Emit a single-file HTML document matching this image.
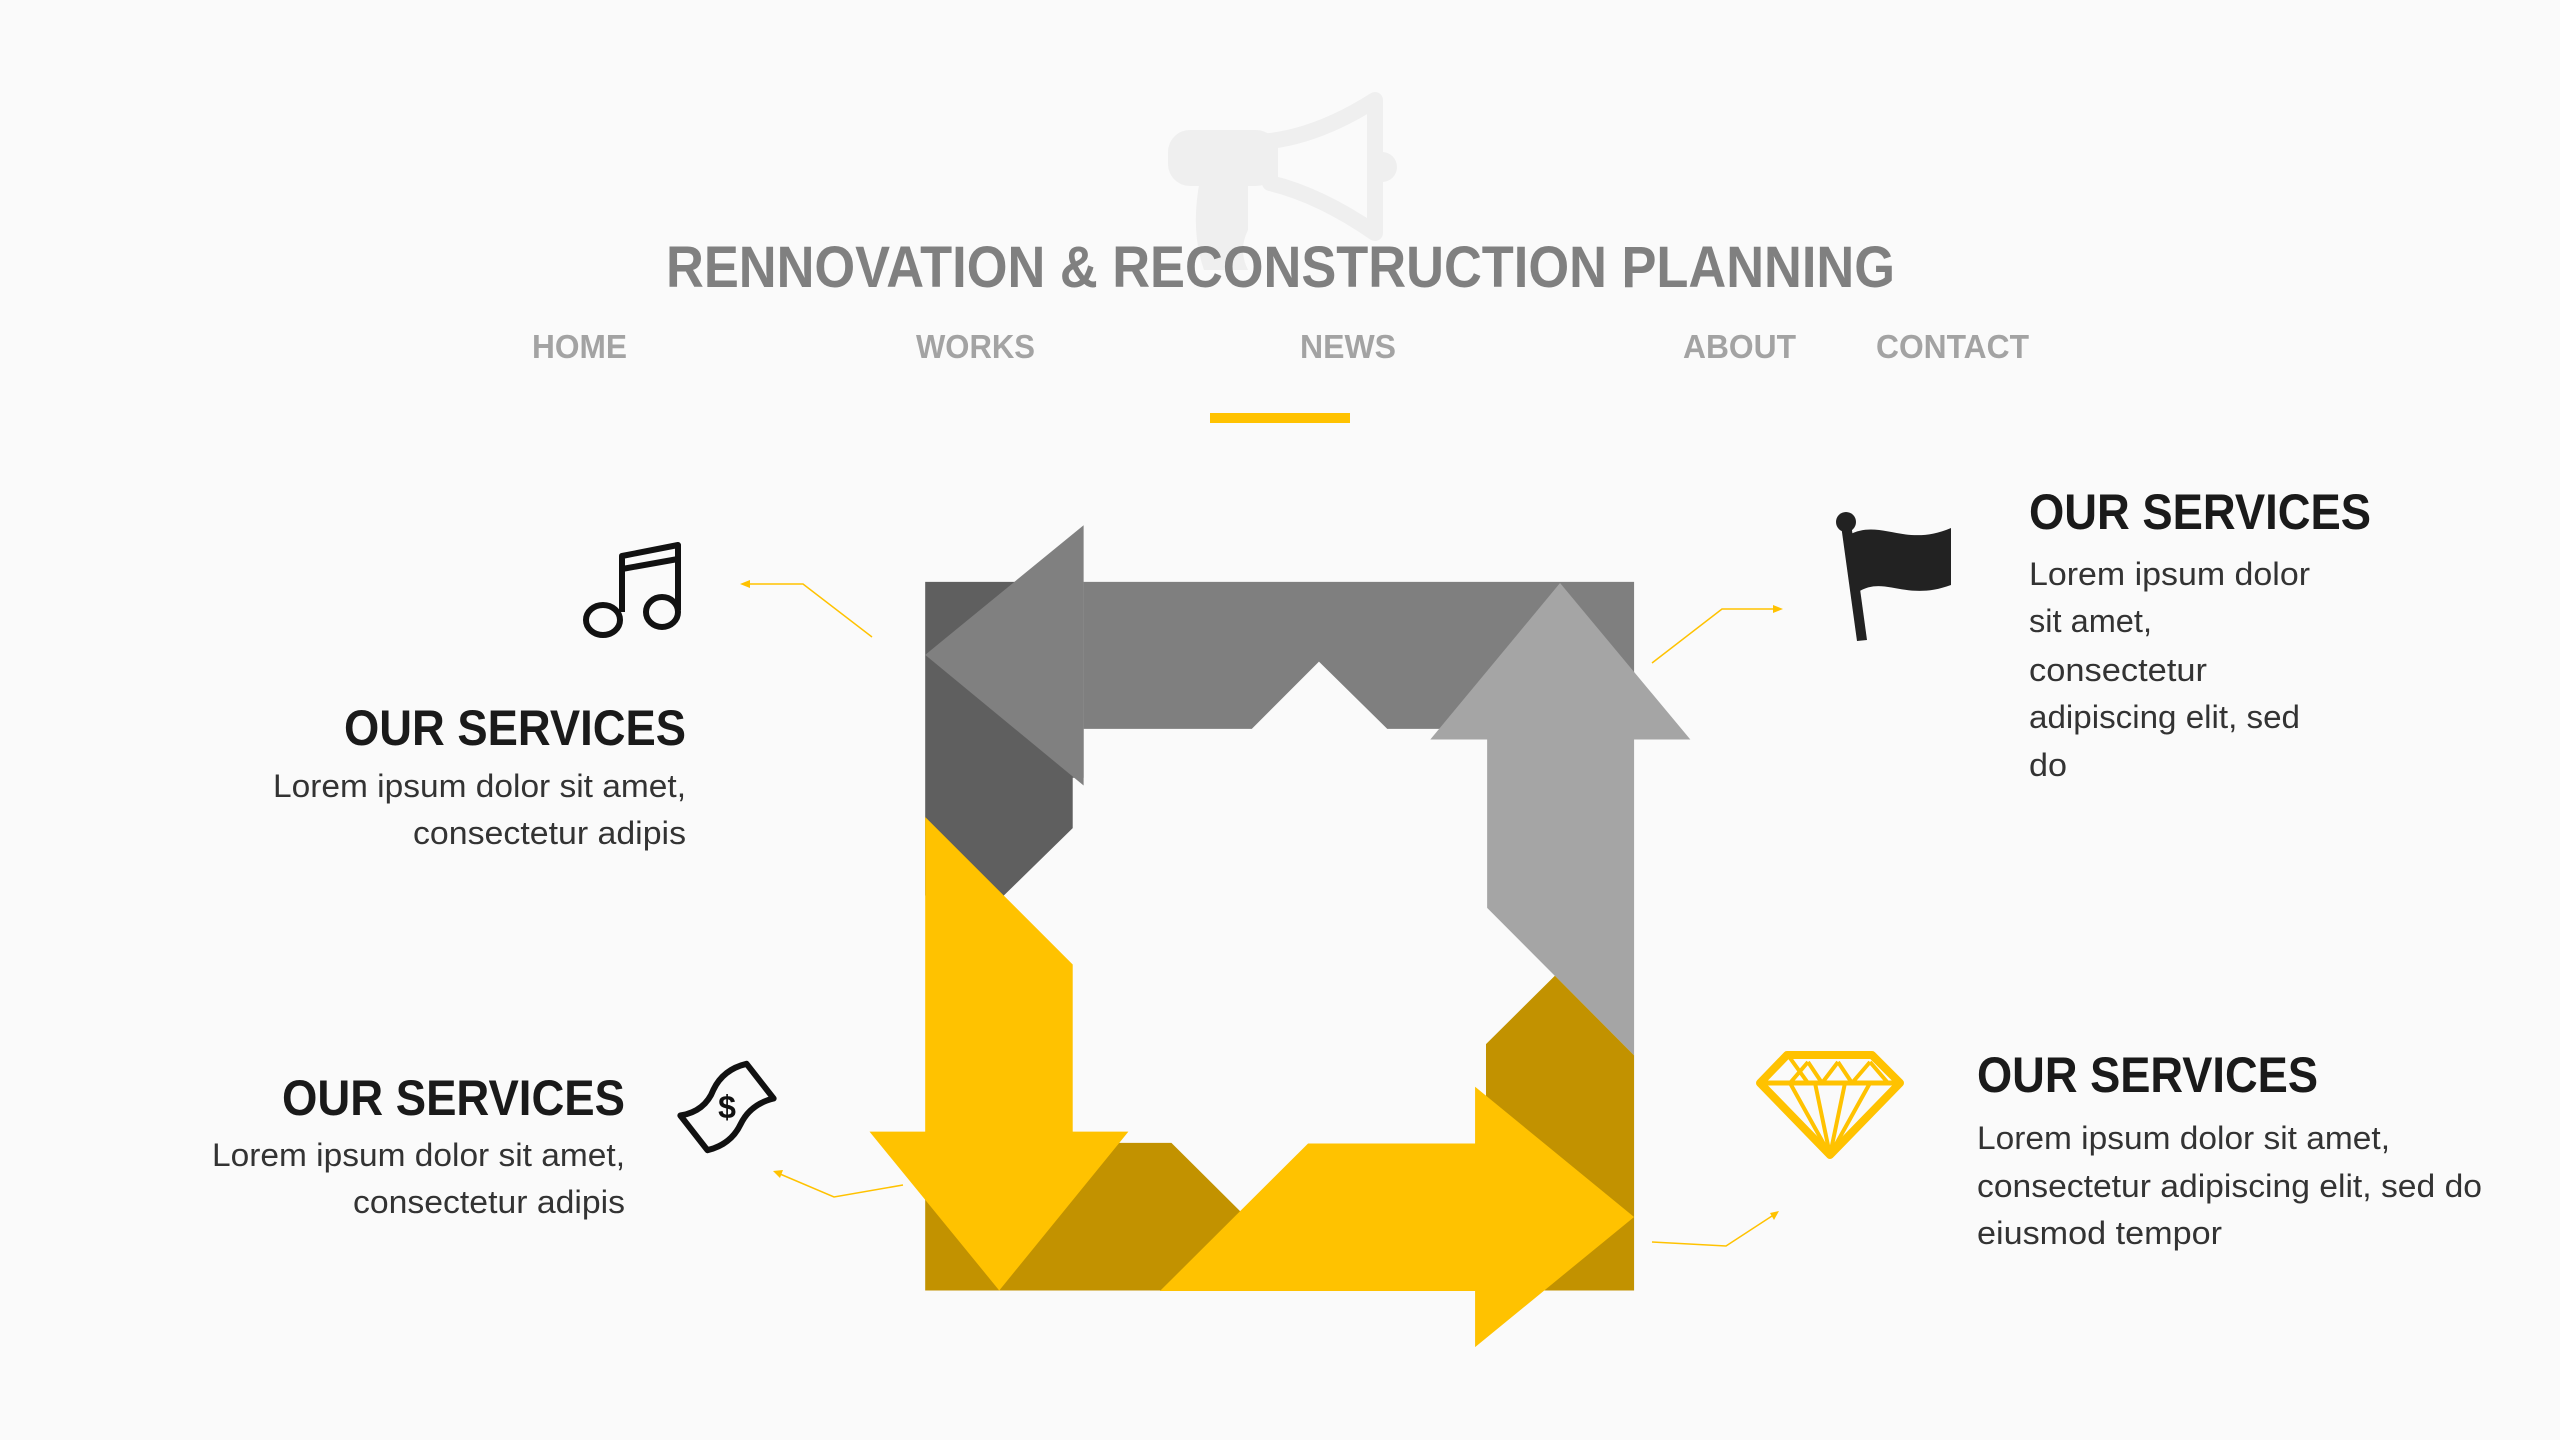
<!DOCTYPE html>
<html><head><meta charset="utf-8"><style>
html,body{margin:0;padding:0;background:#fafafa;}
svg{display:block;}
text{font-family:"Liberation Sans",sans-serif;}
</style></head><body>
<svg width="2560" height="1440" viewBox="0 0 2560 1440" xmlns="http://www.w3.org/2000/svg">
<rect width="2560" height="1440" fill="#fafafa"/>
<!-- megaphone -->
<g fill="#efefef" stroke="none">
<rect x="1168" y="130" width="110" height="56" rx="22"/>
<path d="M1200,180 h48 v50 q-10,20 0,40 h-44 q-14,-40 -4,-90z"/>
<circle cx="1382" cy="167" r="15"/>
</g>
<path d="M1270,141 Q1320,135 1375,100 L1375,233 Q1320,195 1270,183 Z" fill="none" stroke="#efefef" stroke-width="16" stroke-linejoin="round"/>
<!-- title -->
<text x="666" y="287" font-size="58" font-weight="bold" fill="#808080" textLength="1229" lengthAdjust="spacingAndGlyphs">RENNOVATION &amp; RECONSTRUCTION PLANNING</text>
<g font-size="33" font-weight="bold" fill="#a3a3a3">
<text x="532" y="358" textLength="95" lengthAdjust="spacingAndGlyphs">HOME</text>
<text x="916" y="358" textLength="119" lengthAdjust="spacingAndGlyphs">WORKS</text>
<text x="1300" y="358" textLength="96" lengthAdjust="spacingAndGlyphs">NEWS</text>
<text x="1683" y="358" textLength="113" lengthAdjust="spacingAndGlyphs">ABOUT</text>
<text x="1876" y="358" textLength="153" lengthAdjust="spacingAndGlyphs">CONTACT</text>
</g>
<rect x="1210" y="413" width="140" height="10" fill="#ffc200"/>
<!-- diagram -->
<g transform="translate(850,500) scale(0.574,0.561)">
<polygon points="131,146 407,146 407,495 388,495 388,585 268,705 131,705" fill="#5f5f5f"/>
<polygon points="407,146 1366,146 1366,408 936,408 817,288 700,408 407,408" fill="#7f7f7f"/>
<polygon points="131,276 407,45 407,509" fill="#808080"/>
<polygon points="1237,148 1464,427 1366,427 1366,990 1110,727 1110,427 1011,427" fill="#a5a5a5"/>
<polygon points="131,1146 560,1146 680,1268 1108,1268 1108,970 1228,848 1366,990 1366,1409 131,1409" fill="#c29200"/>
<polygon points="131,565 388,828 388,1126 485,1126 260,1409 34,1126 131,1126" fill="#ffc200"/>
<polygon points="540,1410 798,1147 1089,1147 1089,1046 1366,1278 1089,1510 1089,1410" fill="#ffc200"/>
</g>
<!-- connectors -->
<g stroke="#ffc200" stroke-width="1.5" fill="none">
<polyline points="872,637 803,584 748,584"/>
<polyline points="1652,663 1722,609 1775,609"/>
<polyline points="903,1185 834,1197 780,1174"/>
<polyline points="1652,1242 1726,1246 1772,1216"/>
</g>
<g fill="#ffc200">
<polygon points="740,584 750,580 750,588"/>
<polygon points="1783,609 1773,605 1773,613"/>
<polygon points="773,1171 783,1170 780,1178"/>
<polygon points="1779,1211 1774,1220 1770,1213"/>
</g>
<!-- music icon -->
<g fill="none" stroke="#111" stroke-width="6" stroke-linejoin="round">
<path d="M622,612 V556 L678,545 V610"/>
<path d="M622,569 L678,559"/>
<ellipse cx="603" cy="620" rx="17" ry="15"/>
<ellipse cx="662" cy="612" rx="16" ry="15"/>
</g>
<!-- money icon -->
<g transform="translate(727,1107) rotate(-38)">
<path d="M-42,-22 Q-20,-10 0,-22 Q20,-32 42,-22 L42,22 Q20,12 0,22 Q-20,32 -42,22 Z" fill="none" stroke="#111" stroke-width="6" stroke-linejoin="round"/>
<text x="0" y="11" font-size="32" font-weight="bold" fill="#111" text-anchor="middle" transform="rotate(38)">$</text>
</g>
<!-- flag -->
<g fill="#222">
<circle cx="1846" cy="522" r="10"/>
<polygon points="1841,525 1851,523 1867,640 1857,641"/>
<path d="M1849,535 C1880,518 1905,548 1951,528 L1951,585 C1905,602 1885,575 1858,592 Z"/>
</g>
<!-- diamond -->
<g fill="none" stroke="#ffc200" stroke-width="8" stroke-linejoin="round">
<polygon points="1787,1055 1872,1055 1900,1083 1830,1155 1760,1083"/>
<line x1="1760" y1="1083" x2="1900" y2="1083" stroke-width="5"/>
<path d="M1790,1058 L1808,1083 M1808,1062 L1822,1083 M1822,1083 L1838,1062 M1838,1062 L1852,1083 M1870,1062 L1852,1083 M1870,1062 L1888,1083 M1808,1062 L1790,1083 M1790,1083 L1830,1155 M1815,1083 L1830,1155 M1845,1083 L1830,1155 M1870,1083 L1830,1155" stroke-width="4"/>
</g>
<!-- text blocks -->
<g font-weight="bold" fill="#1a1a1a" font-size="50">
<text x="344" y="745" textLength="342" lengthAdjust="spacingAndGlyphs">OUR SERVICES</text>
<text x="282" y="1115" textLength="343" lengthAdjust="spacingAndGlyphs">OUR SERVICES</text>
<text x="2029" y="529" textLength="342" lengthAdjust="spacingAndGlyphs">OUR SERVICES</text>
<text x="1977" y="1092" textLength="341" lengthAdjust="spacingAndGlyphs">OUR SERVICES</text>
</g>
<g fill="#333" font-size="32">
<text x="273" y="797" textLength="413" lengthAdjust="spacingAndGlyphs">Lorem ipsum dolor sit amet,</text>
<text x="413" y="844" textLength="273" lengthAdjust="spacingAndGlyphs">consectetur adipis</text>
<text x="212" y="1166" textLength="413" lengthAdjust="spacingAndGlyphs">Lorem ipsum dolor sit amet,</text>
<text x="353" y="1213" textLength="272" lengthAdjust="spacingAndGlyphs">consectetur adipis</text>
<text x="2029" y="585" textLength="281" lengthAdjust="spacingAndGlyphs">Lorem ipsum dolor</text>
<text x="2029" y="632" textLength="123" lengthAdjust="spacingAndGlyphs">sit amet,</text>
<text x="2029" y="681" textLength="178" lengthAdjust="spacingAndGlyphs">consectetur</text>
<text x="2029" y="728" textLength="271" lengthAdjust="spacingAndGlyphs">adipiscing elit, sed</text>
<text x="2029" y="776" textLength="38" lengthAdjust="spacingAndGlyphs">do</text>
<text x="1977" y="1149" textLength="413" lengthAdjust="spacingAndGlyphs">Lorem ipsum dolor sit amet,</text>
<text x="1977" y="1197" textLength="505" lengthAdjust="spacingAndGlyphs">consectetur adipiscing elit, sed do</text>
<text x="1977" y="1244" textLength="245" lengthAdjust="spacingAndGlyphs">eiusmod tempor</text>
</g>
</svg>
</body></html>
